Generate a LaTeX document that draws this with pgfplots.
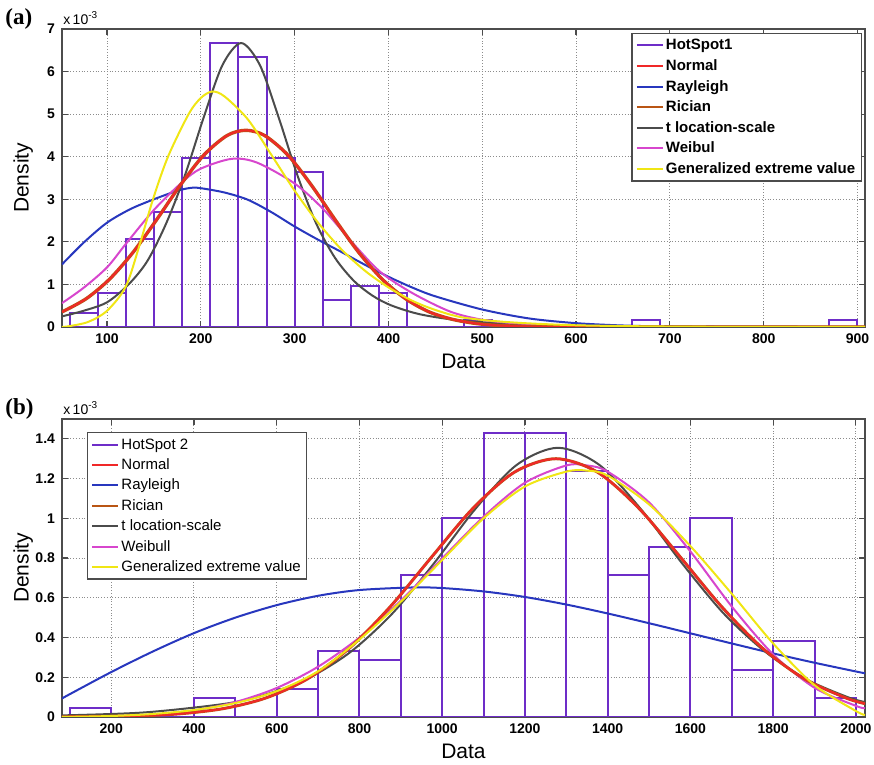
\documentclass[border=0pt]{standalone}
\usepackage{fontspec}
\setmainfont{Liberation Sans}
\newfontfamily\serifb{Liberation Serif}
\usepackage{pgfplots}
\pgfplotsset{compat=1.18}

\definecolor{hcol}{RGB}{110,45,200}
\definecolor{ncol}{RGB}{240,40,40}
\definecolor{rcol}{RGB}{40,55,190}
\definecolor{ricol}{RGB}{185,85,20}
\definecolor{tcol}{RGB}{75,75,75}
\definecolor{wcol}{RGB}{215,70,205}
\definecolor{gcol}{RGB}{240,230,20}

\pgfplotsset{common/.style={
  scale only axis, width=401.5pt, height=149pt,
  axis line style={black!70, line width=0.6pt},
  tick style={black!70, line width=0.6pt},
  tick align=inside, tick pos=both, major tick length=3pt,
  grid=major, grid style={densely dotted, black!45, line width=0.5pt},
  tick label style={font=\fontsize{7}{8}\selectfont\bfseries},
  /pgf/number format/assume math mode=true,
  /pgf/number format/1000 sep={},
  label style={font=\fontsize{10.5}{12}\selectfont},
  xlabel style={at={(axis description cs:0.5,-0.067)}, anchor=north},
  ylabel style={at={(axis description cs:-0.0274,0.5)}, anchor=south},
  legend image code/.code={\draw[#1] (0pt,0pt) -- (13pt,0pt);},
  legend cell align=left,
  clip=true,
  cv/.style={smooth, line width=1pt, forget plot},
}}

\begin{document}
\begin{tikzpicture}
% ---------------- (a) ----------------
\begin{axis}[common,
  at={(0,0)}, anchor=south west,
  xmin=52, xmax=908, ymin=0, ymax=7,
  xtick={100,200,...,900}, ytick={0,1,...,7},
  xlabel={Data}, ylabel={Density},
  legend style={at={(axis description cs:0.996,0.987)}, anchor=north east,
    draw=black!70, line width=0.6pt, fill=white,
    font=\fontsize{7.5}{9}\selectfont\bfseries,
    inner xsep=2pt, inner ysep=1pt, row sep=0.3pt,
    nodes={inner sep=1pt, text height=6.2pt, text depth=1.8pt}},
  legend entries={HotSpot1,Normal,Rayleigh,Rician,t location-scale,Weibul,Generalized extreme value},
]
\coordinate (aTL) at (rel axis cs:0,1);
\coordinate (aBL) at (rel axis cs:0,0);
\addplot[ybar interval, draw=hcol, fill=none, line width=1pt, forget plot] coordinates {
 (60,0.317) (90,0.794) (120,2.063) (150,2.698) (180,3.968) (210,6.667) (240,6.349)
 (270,3.968) (300,3.651) (330,0.635) (360,0.952) (390,0.794) (420,0) (450,0)
 (480,0.159) (510,0) (540,0) (570,0) (600,0) (630,0) (660,0.159) (690,0)
 (720,0) (750,0) (780,0) (810,0) (840,0) (870,0.159) (900,0)};
% Rayleigh
\addplot[cv, rcol] coordinates {
 (52,1.47) (75,1.98) (100,2.45) (125,2.77) (150,3.00) (175,3.20) (190,3.27) (200,3.26)
 (225,3.16) (250,2.99) (275,2.70) (300,2.36) (325,2.05) (350,1.76) (375,1.46) (400,1.18)
 (425,0.93) (450,0.72) (500,0.41) (550,0.20) (600,0.09) (650,0.035) (700,0.012) (800,0.001) (908,0)};
% t location-scale
\addplot[cv, tcol] coordinates {
 (52,0.25) (75,0.38) (100,0.58) (123,1.0) (143,1.55) (163,2.43) (183,3.56) (203,4.92)
 (223,6.15) (243,6.67) (263,6.15) (283,4.92) (303,3.56) (323,2.43) (343,1.625) (363,1.087)
 (383,0.736) (403,0.507) (433,0.301) (473,0.162) (523,0.082) (593,0.036) (693,0.014) (843,0.005) (908,0.003)};
% Weibull
\addplot[cv, wcol] coordinates {
 (52,0.56) (75,0.92) (100,1.40) (120,1.95) (150,2.75) (180,3.40) (200,3.72) (233,3.95)
 (260,3.86) (300,3.37) (330,2.78) (360,2.02) (391,1.30) (426,0.79) (466,0.36) (500,0.17)
 (533,0.09) (580,0.03) (650,0.005) (750,0) (908,0)};
% Rician
\addplot[cv, ricol, line width=1.7pt] coordinates {
 (52,0.353) (78,0.667) (103,1.130) (128,1.761) (153,2.524) (178,3.327) (203,4.034) (228,4.498)
 (248,4.620) (268,4.498) (293,4.034) (318,3.327) (343,2.524) (368,1.761) (393,1.130) (418,0.667)
 (443,0.358) (468,0.181) (493,0.083) (518,0.035) (553,0.009) (608,0.001) (700,0) (908,0)};
% Normal
\addplot[cv, ncol] coordinates {
 (52,0.353) (78,0.667) (103,1.130) (128,1.761) (153,2.524) (178,3.327) (203,4.034) (228,4.498)
 (248,4.620) (268,4.498) (293,4.034) (318,3.327) (343,2.524) (368,1.761) (393,1.130) (418,0.667)
 (443,0.358) (468,0.181) (493,0.083) (518,0.035) (553,0.009) (608,0.001) (700,0) (908,0)};
% GEV
\addplot[cv, gcol] coordinates {
 (52,0.0) (60,0.02) (80,0.12) (100,0.38) (120,0.95) (135,1.95) (149,3.0) (165,4.0) (187,5.0)
 (200,5.38) (212,5.53) (225,5.42) (250,4.88) (275,4.05) (300,3.2) (325,2.45) (350,1.82)
 (375,1.32) (400,0.93) (425,0.62) (450,0.40) (480,0.22) (530,0.11) (600,0.04) (700,0.01) (800,0.002) (908,0)};
\addlegendimage{hcol, line width=1pt}
\addlegendimage{ncol, line width=1pt}
\addlegendimage{rcol, line width=1pt}
\addlegendimage{ricol, line width=1pt}
\addlegendimage{tcol, line width=1pt}
\addlegendimage{wcol, line width=1pt}
\addlegendimage{gcol, line width=1pt}
\end{axis}

\path (aBL) ++(0pt,-46pt) coordinate (bStart);

% ---------------- (b) ----------------
\begin{axis}[common,
  at={(bStart)}, anchor=north west,
  xmin=81, xmax=2022, ymin=0, ymax=1.5,
  xtick={200,400,...,2000}, ytick={0,0.2,0.4,0.6,0.8,1,1.2,1.4},
  xlabel={Data}, ylabel={Density},
  legend style={at={(axis description cs:0.031,0.956)}, anchor=north west,
    draw=black!70, line width=0.6pt, fill=white,
    font=\fontsize{7.5}{9}\selectfont,
    inner xsep=2pt, inner ysep=1pt, row sep=0.2pt,
    nodes={inner sep=1pt, text height=6.2pt, text depth=1.8pt}},
  legend entries={HotSpot 2,Normal,Rayleigh,Rician,t location-scale,Weibull,Generalized extreme value},
]
\coordinate (bTL) at (rel axis cs:0,1);
\coordinate (bBR) at (rel axis cs:1,0);
\addplot[ybar interval, draw=hcol, fill=none, line width=1pt, forget plot] coordinates {
 (100,0.0476) (200,0) (300,0) (400,0.0952) (500,0) (600,0.1429) (700,0.3333) (800,0.2857)
 (900,0.7143) (1000,1.0) (1100,1.4286) (1200,1.4286) (1300,1.2381) (1400,0.7143) (1500,0.8571)
 (1600,1.0) (1700,0.2381) (1800,0.381) (1900,0.0952) (2000,0)};
% Rayleigh
\addplot[cv, rcol] coordinates {
 (81,0.093) (100,0.115) (200,0.226) (300,0.329) (400,0.422) (500,0.500) (600,0.563) (700,0.610)
 (800,0.639) (930,0.652) (1000,0.649) (1100,0.632) (1200,0.604) (1300,0.566) (1400,0.521)
 (1500,0.472) (1600,0.421) (1700,0.370) (1800,0.320) (1900,0.273) (2000,0.229) (2022,0.220)};
% t location-scale
\addplot[cv, tcol] coordinates {
 (81,0.008) (280,0.0229) (480,0.068) (580,0.1171) (680,0.1991) (780,0.3298) (880,0.5219)
 (980,0.7730) (1080,1.0469) (1180,1.2686) (1280,1.355) (1380,1.2686) (1480,1.0469) (1580,0.7730)
 (1680,0.5219) (1780,0.3298) (1880,0.19) (1980,0.10) (2022,0.075)};
% Weibull
\addplot[cv, wcol] coordinates {
 (81,0) (200,0.0026) (300,0.0114) (400,0.033) (500,0.075) (600,0.146) (700,0.253) (800,0.400)
 (900,0.586) (1000,0.798) (1100,1.008) (1200,1.179) (1300,1.266) (1350,1.266) (1400,1.235)
 (1500,1.080) (1600,0.833) (1700,0.556) (1800,0.315) (1900,0.147) (2000,0.056) (2022,0.044)};
% Rician
\addplot[cv, ricol, line width=1.5pt] coordinates {
 (81,0.0007) (275,0.0065) (375,0.0177) (475,0.0436) (575,0.0966) (675,0.1926) (775,0.3451)
 (875,0.5563) (975,0.8065) (1075,1.0515) (1175,1.2328) (1275,1.30) (1375,1.2328) (1475,1.0515)
 (1575,0.8065) (1675,0.5563) (1775,0.3451) (1875,0.1926) (1975,0.0966) (2022,0.067)};
% Normal
\addplot[cv, ncol] coordinates {
 (81,0.0007) (275,0.0065) (375,0.0177) (475,0.0436) (575,0.0966) (675,0.1926) (775,0.3451)
 (875,0.5563) (975,0.8065) (1075,1.0515) (1175,1.2328) (1275,1.30) (1375,1.2328) (1475,1.0515)
 (1575,0.8065) (1675,0.5563) (1775,0.3451) (1875,0.1926) (1975,0.0966) (2022,0.067)};
% GEV
\addplot[cv, gcol] coordinates {
 (81,0.0) (200,0.005) (300,0.015) (400,0.035) (500,0.07) (600,0.13) (700,0.23) (800,0.39)
 (900,0.58) (1000,0.79) (1100,1.0) (1200,1.16) (1300,1.235) (1350,1.24) (1400,1.215) (1500,1.07)
 (1600,0.86) (1700,0.62) (1800,0.37) (1900,0.16) (2000,0.03) (2022,0.01)};
\addlegendimage{hcol, line width=1pt}
\addlegendimage{ncol, line width=1pt}
\addlegendimage{rcol, line width=1pt}
\addlegendimage{ricol, line width=1pt}
\addlegendimage{tcol, line width=1pt}
\addlegendimage{wcol, line width=1pt}
\addlegendimage{gcol, line width=1pt}
\end{axis}

\node[anchor=north west, inner sep=0pt, font=\serifb\bfseries\fontsize{11.5}{12}\selectfont] at ([xshift=-28.5pt,yshift=10.5pt]aTL) {(a)};
\node[anchor=south west, inner sep=0pt, font=\fontsize{7}{8}\selectfont] at ([xshift=0.5pt,yshift=2pt]aTL) {x\,10\textsuperscript{-3}};
\node[anchor=north west, inner sep=0pt, font=\serifb\bfseries\fontsize{11.5}{12}\selectfont] at ([xshift=-28.5pt,yshift=10.5pt]bTL) {(b)};
\node[anchor=south west, inner sep=0pt, font=\fontsize{7}{8}\selectfont] at ([xshift=0.5pt,yshift=2pt]bTL) {x\,10\textsuperscript{-3}};

\pgfresetboundingbox
\path[use as bounding box] ([xshift=-31pt,yshift=14.5pt]aTL) rectangle ([xshift=4.5pt,yshift=-24pt]bBR);
\end{tikzpicture}
\end{document}
